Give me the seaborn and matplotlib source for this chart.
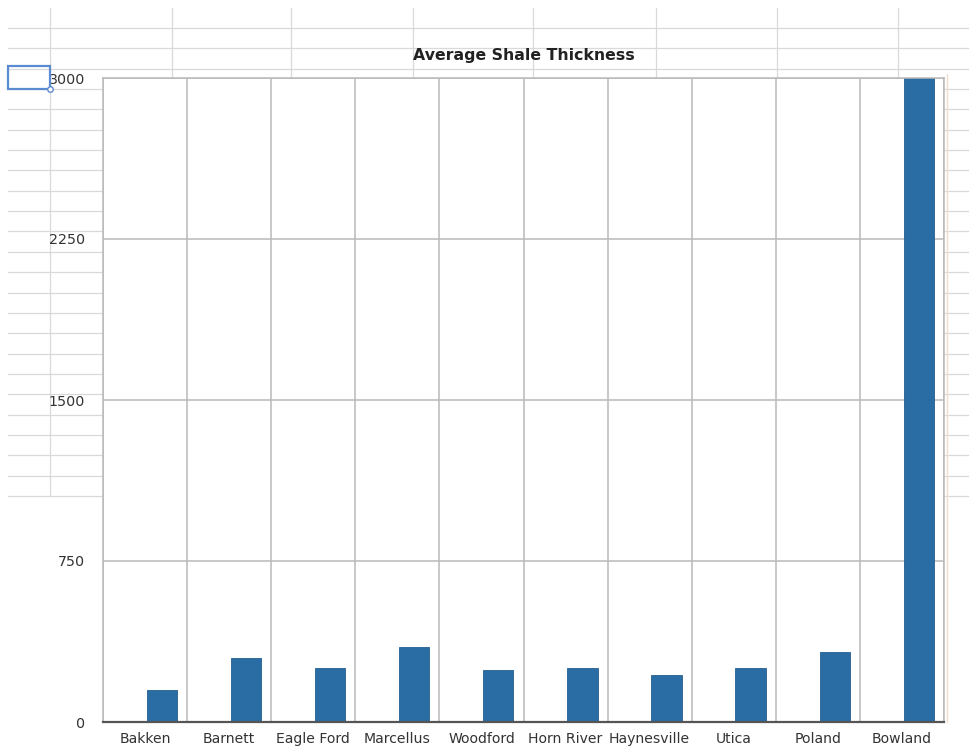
import numpy as np
import pandas as pd
import matplotlib
matplotlib.use("Agg")
import matplotlib.pyplot as plt
from matplotlib.lines import Line2D
from matplotlib.patches import Rectangle
import seaborn as sns

# ---- data -------------------------------------------------------------
shales = ["Bakken", "Barnett", "Eagle Ford", "Marcellus", "Woodford",
          "Horn River", "Haynesville", "Utica", "Poland", "Bowland"]
thickness = [150, 300, 250, 350, 240, 250, 220, 250, 325, 3000]
series_levels = ["Series1", "Series2"]   # Series1 is an empty column in the sheet
y_ticks = [0, 750, 1500, 2250, 3000]
title = "Average Shale Thickness"

df = pd.DataFrame({"Shale": shales, "Thickness": thickness,
                   "Series": ["Series2"] * len(shales)})

# ---- style ------------------------------------------------------------
sns.set_theme(style="white")
plt.rcParams["font.family"] = ["DejaVu Sans"]

W, H = 969, 747
fig = plt.figure(figsize=(W / 100, H / 100), dpi=100)
fig.patch.set_facecolor("white")


def fx(x):
    return x / W


def fy(y):
    return 1 - y / H


# spreadsheet cells behind the chart object
grid_c = "#d9d9d9"
for yy in np.linspace(28, 496, 24):
    fig.add_artist(Line2D([fx(8), fx(W)], [fy(yy), fy(yy)], color=grid_c,
                          lw=0.9, zorder=0, transform=fig.transFigure))
fig.add_artist(Line2D([fx(50), fx(50)], [fy(8), fy(496)], color=grid_c,
                      lw=0.9, zorder=0, transform=fig.transFigure))
for xx in [172, 291, 413, 533, 656, 777, 898]:
    fig.add_artist(Line2D([fx(xx), fx(xx)], [fy(8), fy(78)], color=grid_c,
                          lw=0.9, zorder=0, transform=fig.transFigure))

# selected cell with its fill handle
fig.add_artist(Rectangle((fx(8), fy(89)), fx(50) - fx(8), fy(66) - fy(89),
                         fill=False, edgecolor="#5b8bd0", lw=1.6, zorder=3,
                         transform=fig.transFigure))
fig.add_artist(Line2D([fx(50)], [fy(89)], marker="o", markersize=4,
                      markerfacecolor="white", markeredgecolor="#5b8bd0",
                      zorder=4, transform=fig.transFigure))

# chart selection outline
fig.add_artist(Line2D([fx(947), fx(947)], [fy(74), fy(722)], color="#f2dccc",
                      lw=1.0, zorder=3, transform=fig.transFigure))

# ---- chart ------------------------------------------------------------
ax = fig.add_axes([fx(103), fy(722), fx(944) - fx(103), fy(78) - fy(722)])
ax.set_zorder(1)
ax.set_facecolor("white")

bar_c = "#2a6ca4"
sns.barplot(data=df, x="Shale", y="Thickness", hue="Series",
            hue_order=series_levels, order=shales,
            palette={"Series1": bar_c, "Series2": bar_c}, saturation=1,
            dodge=True, gap=0.1, legend=False, errorbar=None,
            edgecolor="#245e90", linewidth=0.6, ax=ax)

ax.set_xlim(-0.5, len(shales) - 0.5)
ax.set_ylim(0, 3000)
ax.set_yticks(y_ticks)
ax.set_yticklabels([str(v) for v in y_ticks])
ax.set_xticks(range(len(shales)))
ax.set_xticks(np.arange(-0.5, len(shales), 1), minor=True)

ax.grid(False)
ax.grid(axis="y", which="major", color="#b9b9b9", lw=1.1)
ax.grid(axis="x", which="minor", color="#b9b9b9", lw=1.1)
ax.set_axisbelow(True)

for side in ["left", "top", "right"]:
    ax.spines[side].set_color("#b9b9b9")
    ax.spines[side].set_linewidth(1.1)
ax.spines["bottom"].set_color("#555555")
ax.spines["bottom"].set_linewidth(1.6)

ax.tick_params(axis="y", length=0, pad=13, labelsize=10.3, labelcolor="#333333")
ax.tick_params(axis="x", which="both", length=0, pad=7, labelsize=10.1,
               labelcolor="#333333")
ax.set_xlabel("")
ax.set_ylabel("")
ax.set_title(title, fontsize=11.3, fontweight="bold", color="#222222", pad=13)

fig.savefig("out.png", dpi=100)
